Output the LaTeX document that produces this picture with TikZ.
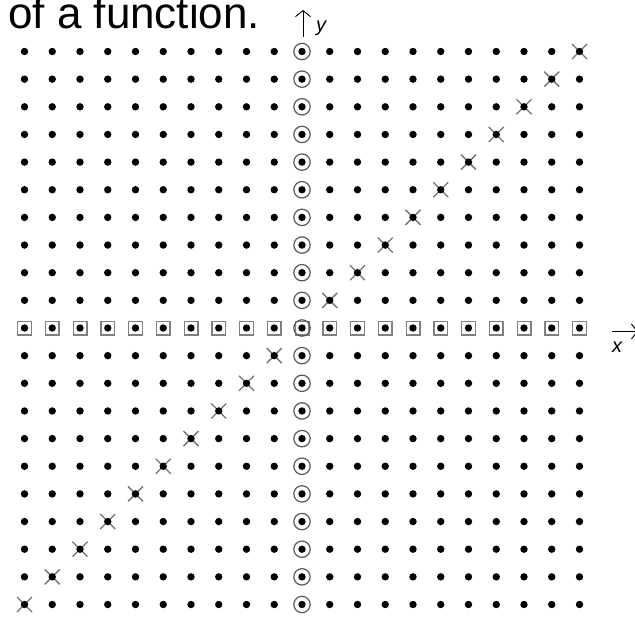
\documentclass[tikz,border=0pt]{standalone}
\usepackage{fontspec}
\setmainfont{Liberation Sans}
\usetikzlibrary{arrows.meta}
\begin{document}
\begin{tikzpicture}[x=1pt,y=1pt,
  dotmark/.style={fill=black},
  ringmark/.style={draw=black!65, line width=1.2pt},
  boxmark/.style={draw=black!50, line width=1.4pt},
  crossmark/.style={draw=black!55, line width=1.3pt},
  axisarrow/.style={-{Straight Barb[length=6pt,width=15pt]}, line width=0.9pt},
  lbl/.style={inner sep=0pt, anchor=base west}]
\useasboundingbox (0,0) rectangle (635,-619);
\clip (0,0) rectangle (635,-619);
\node[lbl, font=\fontsize{44}{44}\selectfont] (title) at (8,-28) {of a function.};
\coordinate (ya) at (303,-37);
\coordinate (yb) at (303,-10);
\draw[axisarrow] (ya) -- (yb);
\node[lbl, font=\fontsize{20}{20}\selectfont\itshape] (ylabel) at (316,-31) {y};
\coordinate (xa) at (612,-331.5);
\coordinate (xb) at (638,-331.5);
\draw[axisarrow] (xa) -- (xb);
\node[lbl, font=\fontsize{20}{20}\selectfont\itshape] (xlabel) at (612,-352) {x};
\begin{scope}[shift={(302,-328)}, x=27.75pt, y=27.65pt]
  \foreach \i in {-10,...,10} {
    \draw[boxmark] (\i,0) ++(-6.8pt,-6.8pt) rectangle ++(13.6pt,13.6pt);
    \draw[ringmark] (0,\i) circle[radius=8.2pt];
  }
  \foreach \i in {-10,...,-1,1,2,...,10} {
    \draw[crossmark] (\i,\i) ++(-7.5pt,-7.5pt) -- ++(15pt,15pt);
    \draw[crossmark] (\i,\i) ++(-7.5pt,7.5pt) -- ++(15pt,-15pt);
  }
  \foreach \i in {-10,...,10} \foreach \j in {-10,...,10} {
    \fill[dotmark] (\i,\j) circle[radius=3.7pt];
  }
\end{scope}
\end{tikzpicture}
\end{document}
